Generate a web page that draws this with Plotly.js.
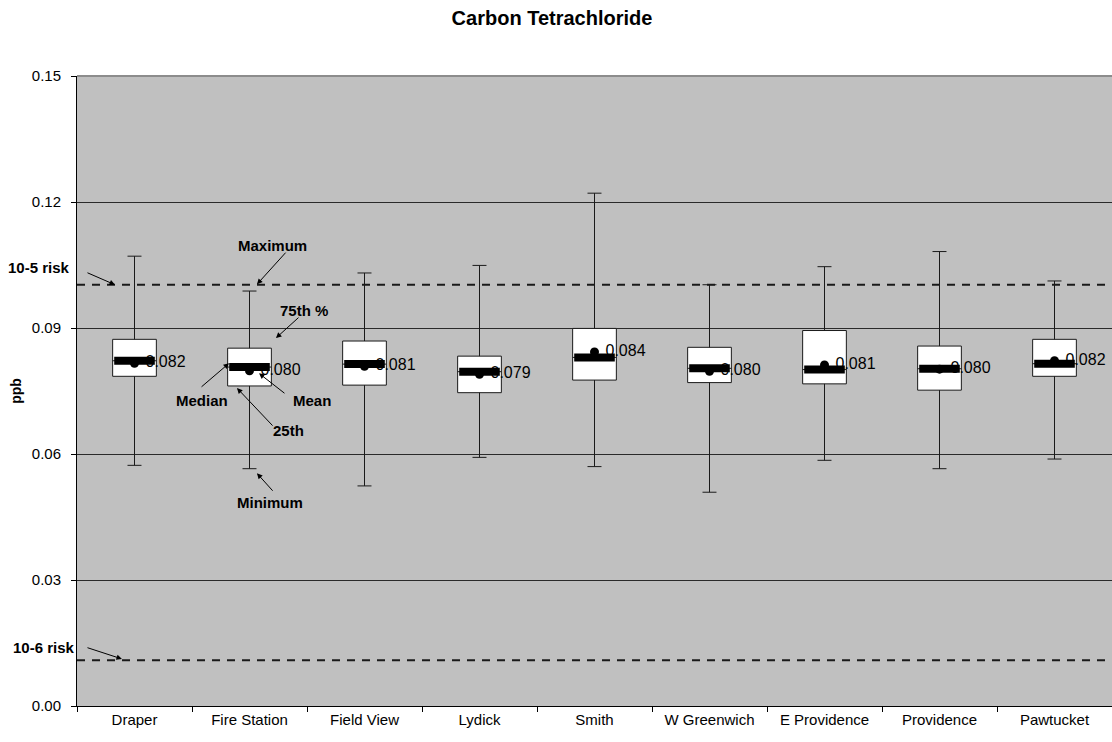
<!DOCTYPE html>
<html>
<head>
<meta charset="utf-8">
<script src="https://cdn.plot.ly/plotly-3.0.1.min.js"></script>
<style>
  html, body { margin: 0; padding: 0; background: #fff; }
  #chart { width: 1112px; height: 742px; }
</style>
</head>
<body>
<div id="chart"></div>
<script>
// ---- data ----
const sites = ['Draper', 'Fire Station', 'Field View', 'Lydick', 'Smith', 'W Greenwich', 'E Providence', 'Providence', 'Pawtucket'];
const minimum = [0.0573, 0.0565, 0.0524, 0.0592, 0.0570, 0.0509, 0.0585, 0.0565, 0.0588];
const p25     = [0.0785, 0.0762, 0.0764, 0.0746, 0.0776, 0.0770, 0.0767, 0.0752, 0.0785];
const median  = [0.0822, 0.0807, 0.0814, 0.0796, 0.0830, 0.0804, 0.0801, 0.0803, 0.0815];
const p75     = [0.0873, 0.0852, 0.0869, 0.0833, 0.0899, 0.0854, 0.0894, 0.0857, 0.0873];
const maximum = [0.1071, 0.0988, 0.1031, 0.1049, 0.1221, 0.1003, 0.1046, 0.1082, 0.1012];
const mean    = [0.0816, 0.0798, 0.0809, 0.0790, 0.0843, 0.0797, 0.0812, 0.0802, 0.0822];
const meanLabels = ['0.082', '0.080', '0.081', '0.079', '0.084', '0.080', '0.081', '0.080', '0.082'];
const riskLevels = [0.1003, 0.0109];
const riskLabels = ['10-5 risk', '10-6 risk'];
const yTicks = [0, 0.03, 0.06, 0.09, 0.12, 0.15];
const yTickText = ['0.00', '0.03', '0.06', '0.09', '0.12', '0.15'];

const FONT = '"Liberation Sans", Arial, Helvetica, sans-serif';

const boxTrace = {
  type: 'box',
  x: sites,
  q1: p25,
  median: median,
  q3: p75,
  lowerfence: minimum,
  upperfence: maximum,
  boxpoints: false,
  width: 0.38,
  whiskerwidth: 0.32,
  fillcolor: '#ffffff',
  line: { color: '#1a1a1a', width: 1 },
  hoverinfo: 'skip',
  showlegend: false
};

const labelTrace = {
  type: 'scatter',
  mode: 'markers+text',
  x: sites,
  y: mean,
  text: meanLabels,
  textposition: 'middle right',
  textfont: { family: FONT, size: 16, color: '#000' },
  marker: { size: 16, opacity: 0 },
  cliponaxis: false,
  hoverinfo: 'skip',
  showlegend: false
};

const medianTrace = {
  type: 'scatter',
  mode: 'markers',
  x: sites,
  y: median,
  marker: { symbol: 'line-ew', size: 29, color: '#000', line: { color: '#000', width: 8 } },
  hoverinfo: 'skip',
  showlegend: false
};

const meanTrace = {
  type: 'scatter',
  mode: 'markers',
  x: sites,
  y: mean,
  marker: { symbol: 'circle', size: 9, color: '#000' },
  hoverinfo: 'skip',
  showlegend: false
};

const shapes = riskLevels.map(v => ({
  type: 'line', xref: 'paper', yref: 'y', x0: 0, x1: 1, y0: v, y1: v,
  line: { color: '#1a1a1a', width: 2, dash: '8px,7px' }, layer: 'above'
}));
shapes.push({
  type: 'line', xref: 'paper', yref: 'paper', x0: 0, x1: 1, y0: 1, y1: 1,
  line: { color: '#8c8c8c', width: 2 }, layer: 'above'
});

const bold = { family: FONT, size: 15, color: '#000', weight: 'bold' };
function label(text, x, y, xref) {
  return { text: '<b>' + text + '</b>', x: x, y: y, xref: xref || 'x', yref: 'y', showarrow: false,
           font: bold, xanchor: 'center', yanchor: 'middle' };
}
function arrow(x, y, ax, ay) {
  return { text: '', x: x, y: y, ax: ax, ay: ay, xref: 'x', yref: 'y', axref: 'x', ayref: 'y',
           showarrow: true, arrowhead: 2, arrowsize: 1.1, arrowwidth: 1, arrowcolor: '#000' };
}

const annotations = [
  label('Maximum', 1.196, 0.1097),
  arrow(1.065, 0.1004, 1.326, 0.1083),
  label('75th %', 1.474, 0.0942),
  arrow(1.230, 0.0876, 1.439, 0.0928),
  label('Median', 0.587, 0.0728),
  arrow(0.822, 0.0816, 0.570, 0.0757),
  label('Mean', 1.543, 0.0728),
  arrow(1.083, 0.0792, 1.317, 0.0742),
  label('25th', 1.335, 0.0657),
  arrow(0.891, 0.0757, 1.213, 0.0664),
  label('Minimum', 1.178, 0.0485),
  arrow(1.065, 0.0554, 1.213, 0.0509),
  label(riskLabels[0], -0.0367, 0.1045, 'paper'),
  arrow(-0.170, riskLevels[0], -0.422, 0.1033),
  label(riskLabels[1], -0.0319, 0.0140, 'paper'),
  arrow(-0.109, riskLevels[1] + 0.0003, -0.422, 0.0140)
];

const layout = {
  width: 1112,
  height: 742,
  margin: { l: 77, r: 0, t: 76, b: 36, pad: 0 },
  paper_bgcolor: '#ffffff',
  plot_bgcolor: '#c0c0c0',
  font: { family: FONT, size: 15, color: '#000' },
  title: {
    text: '<b>Carbon Tetrachloride</b>',
    font: { family: FONT, size: 20, color: '#000' },
    xref: 'container', x: 0.4964, xanchor: 'center',
    yref: 'container', y: 1 - 18 / 742, yanchor: 'middle'
  },
  xaxis: {
    type: 'category',
    range: [-0.5, 8.5],
    tickson: 'boundaries',
    ticks: 'outside',
    ticklen: 5,
    tickcolor: '#000',
    showline: true,
    linecolor: '#000',
    linewidth: 1,
    showgrid: false,
    zeroline: false,
    tickfont: { family: FONT, size: 15, color: '#000' },
    fixedrange: true
  },
  yaxis: {
    range: [0, 0.15],
    tickvals: yTicks,
    ticktext: yTickText,
    ticks: 'outside',
    ticklen: 5,
    tickcolor: '#000',
    ticklabelstandoff: 7,
    showline: true,
    linecolor: '#000',
    linewidth: 1,
    showgrid: true,
    gridcolor: '#2a2a2a',
    gridwidth: 1,
    zeroline: false,
    tickfont: { family: FONT, size: 15, color: '#000' },
    title: { text: '<b>ppb</b>', font: { family: FONT, size: 14, color: '#000' }, standoff: 6 },
    automargin: false,
    fixedrange: true
  },
  shapes: shapes,
  annotations: annotations,
  showlegend: false
};

Plotly.newPlot('chart', [boxTrace, labelTrace, medianTrace, meanTrace], layout, { displayModeBar: false, staticPlot: true });
</script>
</body>
</html>
